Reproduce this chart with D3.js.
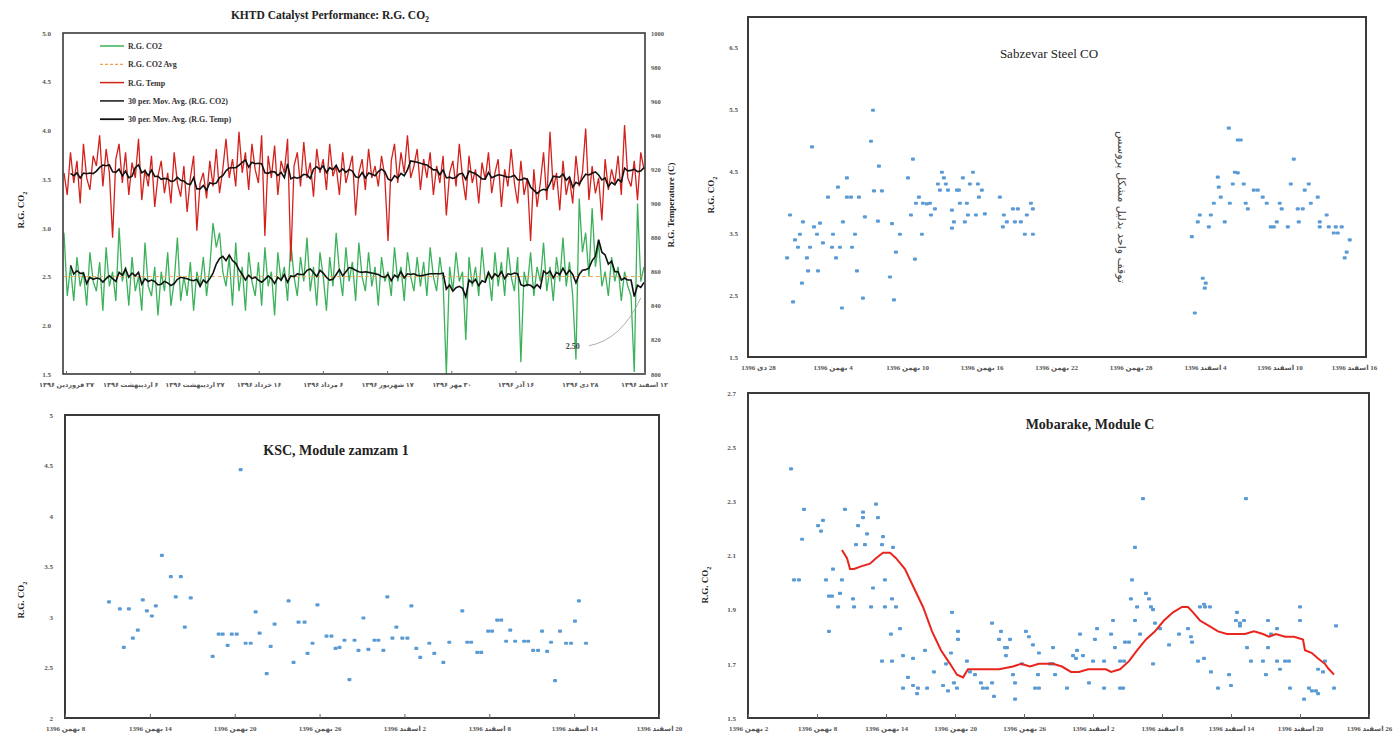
<!DOCTYPE html>
<html>
<head>
<meta charset="utf-8">
<script src="https://cdn.jsdelivr.net/npm/d3@7"></script>
<style>
  body { margin: 0; background: #fff; }
  svg { font-family: "Liberation Serif", "DejaVu Serif", "DejaVu Sans", serif; }
</style>
</head>
<body>
<svg id="chart" width="1400" height="738"></svg>
<script>
// ---------- KHTD (panel 1) ----------
const khtdTitle = 'KHTD Catalyst Performance: R.G. CO';
const khtdDates = ['۲۷ فروردین ۱۳۹۶', '۶ اردیبهشت ۱۳۹۶', '۲۷ اردیبهشت ۱۳۹۶', '۱۶ خرداد ۱۳۹۶', '۶ مرداد ۱۳۹۶',
  '۱۷ شهریور ۱۳۹۶', '۳۰ مهر ۱۳۹۶', '۱۶ آذر ۱۳۹۶', '۲۸ دی ۱۳۹۶', '۱۲ اسفند ۱۳۹۶'];
const co2Ticks = [1.5, 2.0, 2.5, 3.0, 3.5, 4.0, 4.5, 5.0];
const tempTicks = [800, 820, 840, 860, 880, 900, 920, 940, 960, 980, 1000];
const legendNames = ['R.G. CO2', 'R.G. CO2 Avg', 'R.G. Temp', '30 per. Mov. Avg. (R.G. CO2)', '30 per. Mov. Avg. (R.G. Temp)'];
const rgTemp = [
  918, 905, 930, 912, 925, 900, 935, 915, 908, 928,
  922, 940, 910, 932, 918, 880, 926, 935, 912, 930,
  905, 924, 915, 938, 902, 920, 910, 928, 898, 916,
  925, 906, 918, 900, 930, 912, 904, 922, 895, 915,
  928, 884, 912, 918, 903, 925, 910, 932, 906, 920,
  938, 915, 926, 910, 942, 918, 930, 908, 935, 920,
  912, 940, 881, 928, 915, 934, 905, 925, 918, 938,
  866, 922, 930, 910, 936, 915, 924, 904, 932, 918,
  926, 908, 935, 916, 922, 905, 930, 912, 920, 928,
  893, 918, 926, 908, 932, 915, 922, 910, 928, 916,
  878, 925, 935, 912, 930, 918, 940, 915, 922, 932,
  908, 926, 915, 930, 905, 922, 912, 928, 893, 918,
  925, 910, 935, 915, 902, 928, 912, 920, 900, 924,
  914, 930, 906, 918, 926, 898, 920, 910, 932, 912,
  900, 925, 905, 915, 878, 920, 898, 912, 930, 902,
  942, 908, 918, 896, 925, 905, 915, 900, 928, 910,
  918, 944, 902, 922, 906, 915, 890, 926, 908, 920,
  912, 928, 905, 946, 915, 910, 925, 902, 930, 920
];
const rgCo2 = [
  2.95, 2.30, 2.60, 2.25, 2.70, 2.40, 2.55, 2.20, 2.75, 2.45,
  2.35, 2.65, 2.15, 2.80, 2.40, 2.55, 2.25, 3.00, 2.45, 2.60,
  2.20, 2.70, 2.35, 2.50, 2.15, 2.85, 2.40, 2.30, 2.60, 2.10,
  2.55, 2.35, 2.75, 2.20, 2.45, 2.90, 2.25, 2.50, 2.30, 2.65,
  2.15, 2.55, 2.40, 2.70, 2.30, 2.60, 3.05, 2.80, 2.95, 2.55,
  2.40, 2.70, 2.20, 2.85, 2.35, 2.60, 2.15, 2.75, 2.45, 2.30,
  2.65, 2.20, 2.80, 2.40, 2.55, 2.10, 2.75, 2.45, 2.60, 2.25,
  2.85, 2.50, 2.30, 2.70, 2.45, 2.90, 2.35, 2.60, 2.20, 2.75,
  2.50, 2.15, 2.70, 2.40, 2.95, 2.55, 2.30, 2.80, 2.45, 2.65,
  2.25, 2.85, 2.50, 2.35, 2.75, 2.40, 2.60, 2.20, 2.70, 2.45,
  2.55, 2.30, 2.80, 2.45, 2.60, 2.25, 2.75, 2.50, 2.35, 2.70,
  2.40, 2.65, 2.30, 2.80, 2.50, 2.35, 2.70, 2.45, 1.50, 2.60,
  2.35, 2.75, 2.45, 2.55, 1.85, 2.70, 2.40, 2.60, 2.30, 2.80,
  2.45, 2.55, 2.25, 2.75, 2.40, 2.65, 2.30, 2.80, 2.50, 2.35,
  2.70, 1.62, 2.55, 2.40, 2.75, 2.30, 2.60, 2.45, 2.85, 2.35,
  2.60, 2.25, 2.70, 2.45, 2.90, 2.40, 2.65, 2.30, 1.65, 3.30,
  2.75, 2.95, 2.50, 3.20, 2.60, 2.85, 2.40, 2.55, 2.30, 2.70,
  2.45, 2.60, 2.25, 2.55, 2.40, 2.30, 1.52, 3.25, 2.45, 2.60
];
const co2Avg = 2.50;

// ---------- Sabzevar (panel 2) ----------
const sabzevarDates = ['28 دی 1396', '4 بهمن 1396', '10 بهمن 1396', '16 بهمن 1396', '22 بهمن 1396',
  '28 بهمن 1396', '4 اسفند 1396', '10 اسفند 1396', '16 اسفند 1396'];
const sabzevarTicks = [1.5, 2.5, 3.5, 4.5, 5.5, 6.5];
const sabzevarNote = 'توقف واحد بدلیل مشکل پروسس';
const sabzevarPoints = [
  [9.26, 5.48], [4.35, 4.89], [9.10, 4.98], [12.48, 4.69], [9.74, 4.58], [14.81, 4.48], [17.31, 4.48],
  [7.16, 4.39], [12.08, 4.39], [14.97, 4.39], [16.50, 4.39], [6.44, 4.24], [14.49, 4.29], [15.13, 4.29],
  [17.07, 4.29], [17.71, 4.29], [5.64, 4.08], [7.16, 4.08], [7.49, 4.08], [8.13, 4.08], [9.34, 4.18],
  [9.98, 4.18], [14.65, 4.19], [15.30, 4.19], [16.02, 4.19], [16.18, 4.19], [18.03, 4.19], [12.96, 4.08],
  [17.79, 4.08], [19.48, 4.08], [12.72, 3.98], [13.28, 3.98], [13.60, 3.97], [13.85, 3.98], [16.26, 3.98],
  [16.82, 3.98], [21.98, 3.98], [14.25, 3.89], [15.62, 3.87], [20.53, 3.89], [20.93, 3.89], [22.14, 3.89],
  [2.58, 3.79], [8.61, 3.76], [12.32, 3.79], [13.93, 3.79], [16.91, 3.79], [17.55, 3.79], [18.27, 3.81],
  [19.80, 3.79], [21.65, 3.79], [3.62, 3.68], [4.99, 3.66], [6.84, 3.68], [9.66, 3.69], [10.79, 3.65],
  [15.78, 3.68], [16.66, 3.68], [20.04, 3.68], [20.69, 3.68], [21.17, 3.68], [4.51, 3.60], [15.62, 3.58],
  [19.72, 3.60], [3.38, 3.48], [4.75, 3.48], [6.04, 3.48], [7.81, 3.48], [11.43, 3.48], [13.20, 3.48],
  [21.49, 3.48], [22.14, 3.48], [2.98, 3.39], [5.23, 3.34], [3.22, 3.27], [4.19, 3.27], [5.96, 3.27],
  [6.60, 3.27], [7.57, 3.27], [11.11, 3.19], [2.34, 3.10], [3.94, 3.10], [6.28, 3.10], [12.64, 3.08],
  [4.03, 2.89], [4.83, 2.89], [7.97, 2.89], [10.63, 2.79], [3.54, 2.69], [8.45, 2.45], [10.95, 2.42],
  [2.82, 2.39], [6.76, 2.29],
  [37.92, 5.19], [38.64, 5.00], [38.88, 5.00], [43.15, 4.69], [37.03, 4.40], [38.40, 4.48], [38.64, 4.47],
  [34.94, 3.44], [35.18, 2.21], [35.42, 3.68], [35.58, 3.79], [35.82, 2.77], [36.06, 2.69], [35.98, 2.61],
  [36.31, 3.60], [36.47, 3.79], [36.71, 3.98], [37.11, 4.24], [37.27, 4.08], [37.59, 3.68], [38.00, 3.98],
  [38.24, 4.29], [39.12, 4.29], [39.28, 3.98], [39.45, 3.89], [39.93, 4.19], [40.25, 4.19], [40.65, 4.08],
  [40.97, 3.98], [41.30, 3.60], [41.54, 3.60], [41.78, 3.68], [42.02, 3.98], [42.18, 3.89], [42.67, 3.60],
  [42.91, 4.29], [43.47, 3.89], [43.87, 3.89], [43.55, 3.68], [44.03, 4.19], [44.36, 4.29], [44.52, 3.98],
  [45.08, 4.08], [45.24, 3.68], [45.80, 3.79], [45.24, 3.60], [45.97, 3.60], [46.53, 3.60], [47.01, 3.60],
  [46.37, 3.50], [46.69, 3.50], [47.66, 3.39], [47.41, 3.19], [47.25, 3.10]
];

// ---------- KSC zamzam 1 (panel 3) ----------
const kscDates = ['8 بهمن 1396', '14 بهمن 1396', '20 بهمن 1396', '26 بهمن 1396',
  '2 اسفند 1396', '8 اسفند 1396', '14 اسفند 1396', '20 اسفند 1396'];
const kscTicks = [2, 2.5, 3, 3.5, 4, 4.5, 5];
const kscPoints = [
  [3.11, 3.15], [3.88, 3.08], [4.52, 3.08], [4.16, 2.70], [4.80, 2.79], [5.15, 2.87], [5.50, 3.17],
  [5.79, 3.06], [6.14, 3.01], [6.42, 3.11], [6.85, 3.61], [7.48, 3.40], [7.83, 3.20], [8.19, 3.40],
  [8.47, 2.90], [8.89, 3.19], [10.44, 2.61], [10.87, 2.83], [11.15, 2.83], [11.50, 2.72], [11.79, 2.83],
  [12.14, 2.83], [12.42, 4.46], [12.77, 2.74], [13.13, 2.74], [13.48, 3.05], [13.76, 2.84], [14.26, 2.44],
  [14.54, 2.71], [14.82, 2.93], [15.81, 3.16], [16.16, 2.55], [16.51, 2.95], [16.94, 2.95], [17.15, 2.64],
  [17.50, 2.74], [17.85, 3.12], [18.49, 2.81], [18.84, 2.81], [19.13, 2.69], [19.41, 2.70], [19.76, 2.77],
  [20.11, 2.38], [20.47, 2.77], [20.75, 2.67], [21.10, 2.99], [21.45, 2.68], [21.88, 2.77], [22.16, 2.77],
  [22.51, 2.67], [22.79, 3.20], [23.15, 2.79], [23.43, 2.90], [23.85, 2.79], [24.21, 2.79], [24.49, 3.11],
  [24.84, 2.69], [25.12, 2.60], [25.76, 2.74], [26.11, 2.64], [26.75, 2.55], [27.17, 2.75], [28.09, 3.06],
  [28.44, 2.75], [28.72, 2.75], [29.15, 2.65], [29.43, 2.65], [29.92, 2.86], [30.20, 2.86], [30.56, 2.97],
  [30.84, 2.97], [31.19, 2.76], [31.48, 2.87], [31.83, 2.76], [32.46, 2.76], [32.75, 2.76], [33.10, 2.67],
  [33.45, 2.67], [33.73, 2.86], [34.09, 2.66], [34.37, 2.75], [34.65, 2.37], [35.00, 2.86], [35.43, 2.74],
  [35.78, 2.74], [36.06, 2.96], [36.34, 3.16], [36.84, 2.74]
];

// ---------- Mobarake module C (panel 4) ----------
const mobarakeDates = ['2 بهمن 1396', '8 بهمن 1396', '14 بهمن 1396', '20 بهمن 1396', '26 بهمن 1396',
  '2 اسفند 1396', '8 اسفند 1396', '14 اسفند 1396', '20 اسفند 1396', '26 اسفند 1396'];
const mobarakeTicks = [1.5, 1.7, 1.9, 2.1, 2.3, 2.5, 2.7];
const mobarakePoints = [
  [3.74, 2.42], [4.87, 2.27], [4.70, 2.16], [6.09, 2.21], [6.35, 2.19], [6.52, 2.23], [8.43, 2.27],
  [9.57, 2.21], [10.00, 2.26], [10.00, 2.24], [11.13, 2.29], [11.30, 2.24], [10.35, 2.18], [9.39, 2.14],
  [10.17, 2.14], [11.74, 2.17], [11.65, 2.14], [12.61, 2.13], [34.35, 2.31], [43.30, 2.31], [33.65, 2.13],
  [4.00, 2.01], [4.43, 2.01], [6.78, 2.01], [7.39, 2.05], [8.17, 2.01], [7.04, 1.95], [7.30, 1.95],
  [8.00, 1.96], [7.83, 1.91], [9.22, 1.91], [7.04, 1.82], [9.13, 1.94], [10.70, 1.91], [10.87, 1.98],
  [11.91, 2.01], [11.91, 1.91], [12.52, 1.94], [12.87, 1.91], [12.43, 1.81], [13.22, 1.83], [11.65, 1.71],
  [12.52, 1.71], [13.48, 1.73], [14.35, 1.72], [13.91, 1.65], [13.48, 1.61], [14.78, 1.61], [14.35, 1.62],
  [14.70, 1.59], [15.39, 1.75], [15.57, 1.61], [16.17, 1.67], [17.22, 1.70], [16.96, 1.62], [17.39, 1.60],
  [17.65, 1.74], [17.91, 1.63], [18.17, 1.61], [17.74, 1.89], [18.26, 1.82], [18.26, 1.79], [19.04, 1.71],
  [19.30, 1.67], [19.74, 1.66], [20.26, 1.63], [20.43, 1.61], [20.78, 1.61], [21.22, 1.63], [21.22, 1.85],
  [21.39, 1.58], [22.00, 1.82], [21.83, 1.79], [22.35, 1.76], [22.52, 1.76], [22.43, 1.73], [22.78, 1.79],
  [23.22, 1.57], [23.04, 1.66], [23.22, 1.63], [23.83, 1.70], [24.17, 1.82], [24.43, 1.80], [24.78, 1.77],
  [25.22, 1.66], [24.96, 1.61], [25.30, 1.61], [25.30, 1.74], [26.26, 1.70], [26.52, 1.70], [26.52, 1.76],
  [26.70, 1.66], [27.74, 1.61], [28.26, 1.73], [28.52, 1.72], [28.87, 1.81], [28.61, 1.75], [29.13, 1.73],
  [29.65, 1.63], [30.00, 1.71], [30.17, 1.79], [30.35, 1.83], [30.96, 1.61], [30.96, 1.71], [31.74, 1.86],
  [31.57, 1.81], [31.91, 1.76], [32.35, 1.61], [32.61, 1.61], [32.35, 1.71], [32.70, 1.71], [32.78, 1.78],
  [33.13, 1.78], [33.30, 1.94], [33.65, 1.86], [34.09, 1.81], [33.39, 2.01], [33.83, 1.91], [34.61, 1.96],
  [34.87, 1.94], [35.04, 1.91], [35.22, 1.90], [35.39, 1.85], [35.83, 1.83], [35.22, 1.70], [36.61, 1.77],
  [37.48, 1.81], [38.26, 1.83], [38.52, 1.80], [38.61, 1.78], [39.13, 1.71], [39.65, 1.72], [39.30, 1.91],
  [39.74, 1.91], [40.17, 1.91], [39.65, 1.92], [40.26, 1.67], [40.87, 1.61], [41.83, 1.66], [42.00, 1.62],
  [42.43, 1.86], [42.78, 1.85], [43.13, 1.86], [42.52, 1.89], [42.78, 1.84], [43.39, 1.76], [43.74, 1.71],
  [44.78, 1.71], [45.04, 1.66], [45.22, 1.86], [45.22, 1.76], [45.48, 1.81], [46.00, 1.83], [46.00, 1.71],
  [46.26, 1.68], [46.70, 1.71], [47.04, 1.71], [47.13, 1.61], [48.00, 1.91], [48.00, 1.86], [48.35, 1.57],
  [48.78, 1.61], [49.39, 1.60], [49.04, 1.60], [49.57, 1.59], [49.57, 1.68], [50.00, 1.67], [50.17, 1.71],
  [50.96, 1.61], [51.13, 1.84]
];
const mobarakeAvg = [
  [8.17, 2.12], [8.61, 2.09], [8.87, 2.05], [9.22, 2.05], [9.83, 2.06], [10.61, 2.07], [11.13, 2.09],
  [11.74, 2.11], [12.35, 2.11], [12.87, 2.09], [13.65, 2.05], [14.43, 1.98], [15.22, 1.91], [16.00, 1.82],
  [16.78, 1.75], [17.57, 1.70], [18.17, 1.66], [18.70, 1.65], [19.13, 1.68], [19.74, 1.68], [20.70, 1.68],
  [21.83, 1.68], [23.04, 1.69], [23.74, 1.70], [24.52, 1.69], [25.30, 1.70], [26.52, 1.70], [27.30, 1.69],
  [28.09, 1.67], [28.78, 1.67], [29.57, 1.68], [30.35, 1.68], [31.13, 1.68], [31.57, 1.67], [32.35, 1.68],
  [33.13, 1.71], [33.83, 1.75], [34.61, 1.79], [35.39, 1.82], [36.17, 1.86], [36.96, 1.89], [37.74, 1.91],
  [38.26, 1.91], [38.70, 1.89], [39.30, 1.86], [40.09, 1.84], [40.87, 1.82], [41.65, 1.81], [42.43, 1.81],
  [43.22, 1.81], [44.00, 1.82], [44.78, 1.81], [45.30, 1.80], [45.91, 1.81], [46.70, 1.80], [47.48, 1.80],
  [48.26, 1.79], [48.43, 1.75], [49.04, 1.74], [49.57, 1.72], [50.17, 1.70], [50.52, 1.68], [50.96, 1.66]
];

const svg = d3.select('#chart');
const blue = '#5b9bd5';

function box(l, t, r, b, w) {
  svg.append('rect').attr('x', l).attr('y', t).attr('width', r - l).attr('height', b - t)
    .attr('fill', 'none').attr('stroke', '#3a3a3a').attr('stroke-width', w);
}

function styleAxis(g, size) {
  g.attr('font-family', null).attr('font-size', null);
  g.select('.domain').remove();
  g.selectAll('text').attr('font-size', size).attr('font-weight', 'bold').attr('fill', '#555');
  g.selectAll('line').attr('stroke', '#666');
}

function co2Label(x, y, size) {
  const t = svg.append('text').attr('transform', `translate(${x},${y}) rotate(-90)`)
    .attr('text-anchor', 'middle').attr('font-size', size).attr('font-weight', 'bold').attr('fill', '#222');
  t.append('tspan').text('R.G. CO');
  t.append('tspan').attr('font-size', size * 0.7).attr('dy', size * 0.3).text('2');
}

function dateAxis(x, y, dates, days, size, tick) {
  const g = svg.append('g').attr('transform', `translate(0,${y})`)
    .call(d3.axisBottom(x).tickValues(days).tickSize(tick).tickPadding(8)
      .tickFormat((d, i) => dates[i]));
  styleAxis(g, size);
  g.selectAll('text').attr('direction', 'rtl');
  return g;
}

function scatter(points, x, y) {
  svg.append('g').selectAll('rect').data(points).enter().append('rect')
    .attr('x', (d) => x(d[0]) - 2).attr('y', (d) => y(d[1]) - 1.6)
    .attr('width', 4).attr('height', 3.2).attr('rx', 1)
    .attr('fill', blue);
}

function movingAvg(arr, w) {
  return arr.map((v, i) => (i < 2 ? null : d3.mean(arr.slice(Math.max(0, i - w + 1), i + 1))));
}

// ---------- panel 1 ----------
const x1 = d3.scaleLinear().domain([0, rgTemp.length - 1]).range([64, 644]);
const yCo2 = d3.scaleLinear().domain([1.5, 5.0]).range([374, 33]);
const yTemp = d3.scaleLinear().domain([800, 1000]).range([374, 33]);

svg.append('text').attr('x', 330).attr('y', 19).attr('text-anchor', 'middle')
  .attr('font-size', 11.5).attr('font-weight', 'bold').attr('fill', '#222')
  .call((t) => {
    t.append('tspan').text(khtdTitle);
    t.append('tspan').attr('font-size', 8).attr('dy', 3).text('2');
  });

svg.append('clipPath').attr('id', 'clip1').append('rect')
  .attr('x', 63).attr('y', 33).attr('width', 582).attr('height', 341);
const plot1 = svg.append('g').attr('clip-path', 'url(#clip1)');

const co2Line = d3.line().x((d, i) => x1(i)).y((d) => yCo2(d));
const tempLine = d3.line().x((d, i) => x1(i)).y((d) => yTemp(d));

plot1.append('path').attr('d', co2Line(rgCo2)).attr('fill', 'none')
  .attr('stroke', '#3bb15a').attr('stroke-width', 1.3);
plot1.append('path').attr('d', co2Line(rgCo2.map(() => co2Avg))).attr('fill', 'none')
  .attr('stroke', '#f0a050').attr('stroke-width', 1).attr('stroke-dasharray', '4,3');
plot1.append('path').attr('d', tempLine(rgTemp)).attr('fill', 'none')
  .attr('stroke', '#d3221d').attr('stroke-width', 1.3);
plot1.append('path').attr('d', co2Line.defined((d) => d !== null)(movingAvg(rgCo2, 7)))
  .attr('fill', 'none').attr('stroke', '#111').attr('stroke-width', 1.6);
plot1.append('path').attr('d', tempLine.defined((d) => d !== null)(movingAvg(rgTemp, 7)))
  .attr('fill', 'none').attr('stroke', '#111').attr('stroke-width', 1.6);

box(63, 33, 645, 374, 1.6);

styleAxis(svg.append('g').attr('transform', 'translate(63,0)')
  .call(d3.axisLeft(yCo2).tickValues(co2Ticks).tickSize(0).tickPadding(12).tickFormat(d3.format('.1f'))), 7);
styleAxis(svg.append('g').attr('transform', 'translate(645,0)')
  .call(d3.axisRight(yTemp).tickValues(tempTicks).tickSize(0).tickPadding(6).tickFormat(d3.format('d'))), 6.5);

const xDates1 = d3.scalePoint().domain(d3.range(khtdDates.length)).range([66, 644]);
dateAxis(xDates1, 374, khtdDates, d3.range(khtdDates.length), 6.5, -3);

co2Label(24, 210, 9);
svg.append('text').attr('transform', 'translate(674,205) rotate(-90)').attr('text-anchor', 'middle')
  .attr('font-size', 9).attr('font-weight', 'bold').attr('fill', '#222').text('R.G. Temperature (C)');

// legend
const legendStyles = [
  { c: '#3bb15a', w: 1.5, dash: null },
  { c: '#f0a050', w: 1.2, dash: '3,2' },
  { c: '#d3221d', w: 1.5, dash: null },
  { c: '#222', w: 1.6, dash: null },
  { c: '#111', w: 1.8, dash: null }
];
const legend = svg.append('g').attr('transform', 'translate(100,46)');
legendNames.forEach((name, i) => {
  const gy = i * 18.3;
  legend.append('line').attr('x1', 0).attr('x2', 24).attr('y1', gy).attr('y2', gy)
    .attr('stroke', legendStyles[i].c).attr('stroke-width', legendStyles[i].w)
    .attr('stroke-dasharray', legendStyles[i].dash);
  legend.append('text').attr('x', 28).attr('y', gy + 3).attr('font-size', 8)
    .attr('font-weight', 'bold').attr('fill', '#333').text(name);
});

// 2.50 callout
svg.append('text').attr('x', x1(157)).attr('y', yCo2(1.76)).attr('font-size', 8)
  .attr('font-weight', 'bold').attr('fill', '#444').attr('text-anchor', 'middle').text(co2Avg.toFixed(2));
svg.append('path')
  .attr('d', `M${x1(162)},${yCo2(1.79)} Q${x1(172)},${yCo2(1.85)} ${x1(178)},${yCo2(2.28)}`)
  .attr('fill', 'none').attr('stroke', '#999').attr('stroke-width', 0.8);

// ---------- panel 2 ----------
const x2 = d3.scaleLinear().domain([0, 48]).range([758, 1354]);
const y2 = d3.scaleLinear().domain([1.5, 6.5]).range([357, 47]);
box(748, 17, 1366, 357, 2);
scatter(sabzevarPoints, x2, y2);
styleAxis(svg.append('g').attr('transform', 'translate(748,0)')
  .call(d3.axisLeft(y2).tickValues(sabzevarTicks).tickSize(0).tickPadding(10).tickFormat(d3.format('.1f'))), 7);
dateAxis(x2, 357, sabzevarDates, d3.range(0, 49, 6), 7, 0);
svg.append('text').attr('x', 1049).attr('y', 58).attr('text-anchor', 'middle')
  .attr('font-size', 13).attr('fill', '#222').text('Sabzevar Steel CO');
co2Label(714, 195, 9);
svg.append('text').attr('transform', `translate(${x2(29.0)},${y2(3.92)}) rotate(90)`)
  .attr('text-anchor', 'middle').attr('font-size', 11).attr('fill', '#444')
  .attr('font-family', 'DejaVu Sans').text(sabzevarNote);

// ---------- panel 3 ----------
const x3 = d3.scaleLinear().domain([0, 42]).range([65, 659]);
const y3 = d3.scaleLinear().domain([2, 5]).range([718, 415]);
box(65, 415, 659, 718, 2);
scatter(kscPoints, x3, y3);
styleAxis(svg.append('g').attr('transform', 'translate(65,0)')
  .call(d3.axisLeft(y3).tickValues(kscTicks).tickSize(0).tickPadding(12).tickFormat((d) => String(d))), 7);
dateAxis(x3, 718, kscDates, d3.range(0, 43, 6), 7, -4);
svg.append('text').attr('x', 336).attr('y', 455).attr('text-anchor', 'middle')
  .attr('font-size', 14).attr('font-weight', 'bold').attr('fill', '#222').text('KSC, Module zamzam 1');
co2Label(24, 600, 9);

// ---------- panel 4 ----------
const x4 = d3.scaleLinear().domain([0, 54]).range([748, 1369]);
const y4 = d3.scaleLinear().domain([1.5, 2.7]).range([718, 393]);
box(748, 393, 1369, 718, 2);
scatter(mobarakePoints, x4, y4);
svg.append('path')
  .attr('d', d3.line().x((d) => x4(d[0])).y((d) => y4(d[1]))(mobarakeAvg))
  .attr('fill', 'none').attr('stroke', '#e8261e').attr('stroke-width', 2);
styleAxis(svg.append('g').attr('transform', 'translate(748,0)')
  .call(d3.axisLeft(y4).tickValues(mobarakeTicks).tickSize(0).tickPadding(12).tickFormat(d3.format('.1f'))), 7);
dateAxis(x4, 718, mobarakeDates, d3.range(0, 55, 6), 7, -4);
svg.append('text').attr('x', 1090).attr('y', 429).attr('text-anchor', 'middle')
  .attr('font-size', 14).attr('font-weight', 'bold').attr('fill', '#222').text('Mobarake, Module C');
co2Label(708, 585, 9);
</script>
</body>
</html>
